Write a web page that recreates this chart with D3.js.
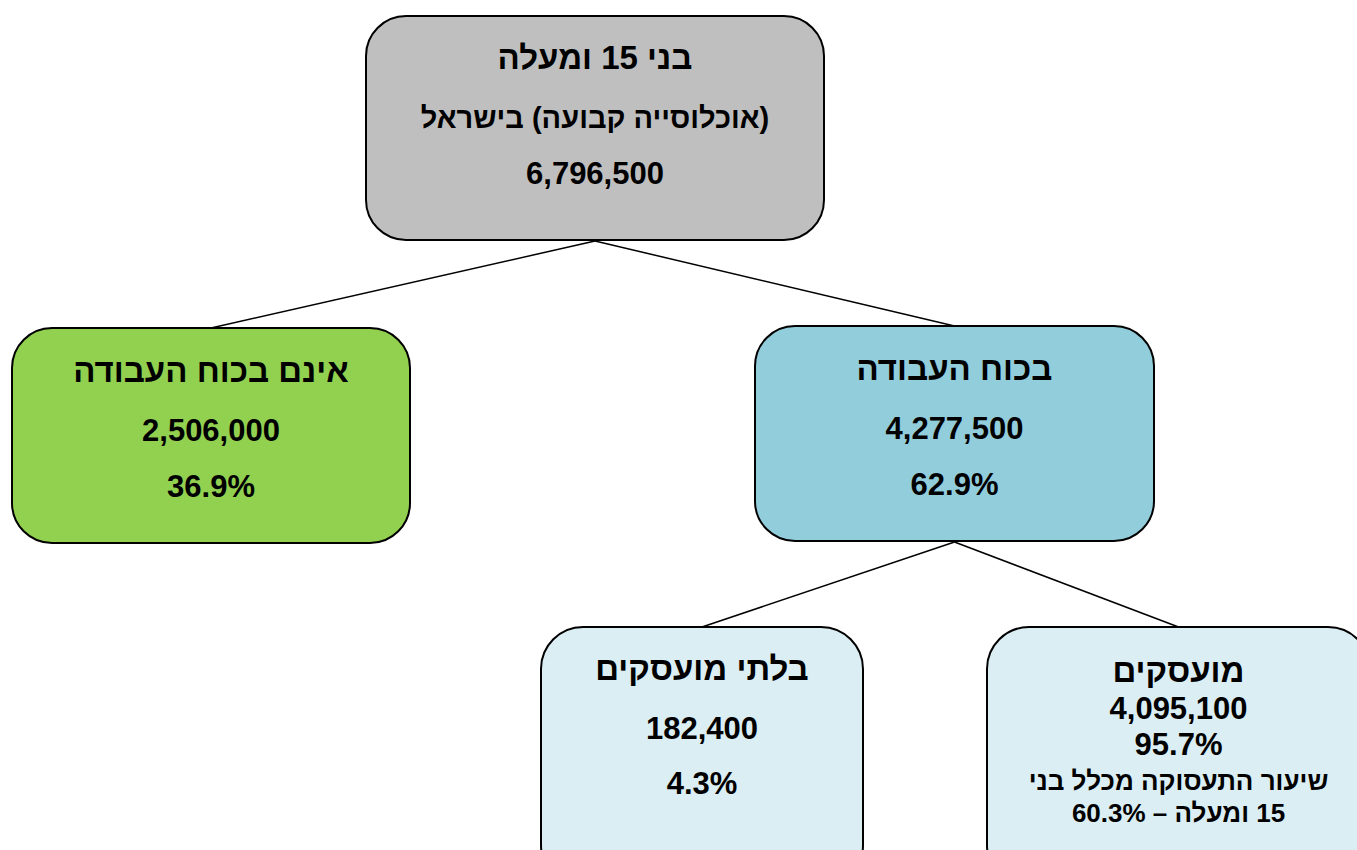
<!DOCTYPE html>
<html lang="he">
<head>
<meta charset="utf-8">
<script src="https://cdn.jsdelivr.net/npm/d3@7"></script>
<style>
  html, body { margin: 0; padding: 0; background: #fff; overflow: hidden; }
  text { font-family: "Liberation Sans", Arial, sans-serif; font-weight: bold; fill: #000; }
</style>
</head>
<body>
<svg id="tree" width="1357" height="850"></svg>
<script>
// data
var nodeIds = ["all", "out", "in", "unemp", "emp"];
var parentIds = [null, "all", "all", "in", "in"];
var nodeTitles = ["בני 15 ומעלה", "אינם בכוח העבודה", "בכוח העבודה", "בלתי מועסקים", "מועסקים"];
var nodeSubtitles = ["(אוכלוסייה קבועה) בישראל", null, null, null, null];
var nodeValues = [6796500, 2506000, 4277500, 182400, 4095100];
var nodeShares = [null, 36.9, 62.9, 4.3, 95.7];
var employmentRate = 60.3;
var rateNote = ["שיעור התעסוקה מכלל בני", "15 ומעלה – "];

// layout (box geometry, colours, text baselines from box top)
var layout = {
  all:   {x: 366, y: 16,  w: 458, h: 224, r: 40, fill: "#bfbfbf", lines: [53, 112, 168]},
  out:   {x: 12,  y: 328, w: 398, h: 215, r: 40, fill: "#92d050", lines: [54, 113, 169]},
  in:    {x: 755, y: 326, w: 399, h: 215, r: 40, fill: "#92cddc", lines: [54, 113, 169]},
  unemp: {x: 541, y: 627, w: 322, h: 260, r: 42, fill: "#daeef3", lines: [53, 112, 167]},
  emp:   {x: 987, y: 627, w: 383, h: 260, r: 42, fill: "#daeef3", lines: [55, 92, 128, 163, 195]}
};
var titleSize = 33, subSize = 29, numSize = 31, noteSize = 26;

var fmt = d3.format(",");

var nodes = nodeIds.map(function(id, i) {
  var lines = [{t: nodeTitles[i], size: titleSize}];
  if (nodeSubtitles[i]) lines.push({t: nodeSubtitles[i], size: subSize});
  lines.push({t: fmt(nodeValues[i]), size: numSize});
  if (nodeShares[i] != null) lines.push({t: nodeShares[i] + "%", size: numSize});
  return {id: id, parent: parentIds[i], lines: lines, box: layout[id]};
});

// employed box carries the employment-rate note
var emp = nodes.find(function(n) { return n.id == "emp"; });
emp.lines.push({t: rateNote[0], size: noteSize});
emp.lines.push({t: rateNote[1] + employmentRate + "%", size: noteSize});

var byId = {};
nodes.forEach(function(n) { byId[n.id] = n; });

var svg = d3.select("#tree");

// connectors
var links = nodes.filter(function(n) { return n.parent; });
svg.append("g")
  .selectAll("line")
  .data(links)
  .enter().append("line")
  .attr("x1", function(d) { var b = byId[d.parent].box; return b.x + b.w / 2; })
  .attr("y1", function(d) { var b = byId[d.parent].box; return b.y + b.h + 1; })
  .attr("x2", function(d) { return d.box.x + d.box.w / 2; })
  .attr("y2", function(d) { return d.box.y; })
  .attr("stroke", "#000")
  .attr("stroke-width", 1.5);

// boxes
var g = svg.append("g")
  .selectAll("g")
  .data(nodes)
  .enter().append("g")
  .attr("transform", function(d) { return "translate(" + d.box.x + "," + d.box.y + ")"; });

g.append("rect")
  .attr("width", function(d) { return d.box.w; })
  .attr("height", function(d) { return d.box.h; })
  .attr("rx", function(d) { return d.box.r; })
  .attr("ry", function(d) { return d.box.r; })
  .attr("fill", function(d) { return d.box.fill; })
  .attr("stroke", "#000")
  .attr("stroke-width", 2);

g.selectAll("text")
  .data(function(d) { return d.lines.map(function(l, i) { return {l: l, i: i, box: d.box}; }); })
  .enter().append("text")
  .attr("x", function(d) { return d.box.w / 2; })
  .attr("y", function(d) { return d.box.lines[d.i]; })
  .attr("text-anchor", "middle")
  .attr("direction", "rtl")
  .style("font-size", function(d) { return d.l.size + "px"; })
  .text(function(d) { return d.l.t; });
</script>
</body>
</html>
